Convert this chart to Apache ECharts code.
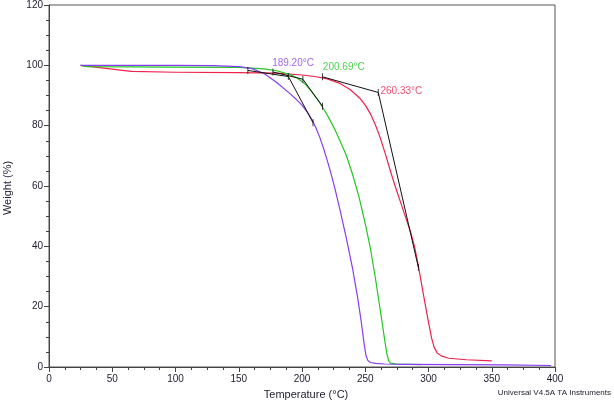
<!DOCTYPE html>
<html>
<head>
<meta charset="utf-8">
<script src="https://cdn.jsdelivr.net/npm/echarts@6/dist/echarts.min.js"></script>
<style>html,body{margin:0;padding:0;background:#fff;}#c{width:614px;height:403px;}</style>
</head>
<body>
<div id="c"></div>
<script>
// ---- data ----
const purpleT = [25, 50, 100, 130, 150, 160, 170, 180, 190, 195, 200, 205, 208, 211, 214, 217, 220, 223, 226, 230, 235, 240, 244, 247, 249, 250.5, 252, 254, 258, 265, 280, 320, 360, 397];
const purpleW = [100, 100, 100, 99.9, 99.6, 99.0, 97.3, 94.3, 90.8, 88.9, 86.8, 84.0, 81.9, 79.3, 76.2, 72.5, 68.4, 64.0, 59.2, 52.2, 42.8, 32.6, 23.0, 14.5, 8.0, 4.0, 2.2, 1.5, 1.2, 1.0, 0.9, 0.8, 0.7, 0.5];

const greenT = [25, 30, 100, 150, 170, 180, 190, 196, 202, 207, 214, 220, 225, 230, 235, 240, 245, 250, 254, 258, 262, 265, 267, 268.5, 270, 275, 285, 295];
const greenW = [100, 99.6, 99.4, 99.3, 98.8, 98.2, 97.0, 95.9, 94.0, 91.6, 87.7, 83.5, 79.6, 75.0, 70.2, 63.8, 56.5, 47.5, 39.5, 29.5, 18.5, 10.0, 4.5, 2.0, 1.3, 1.0, 0.9, 0.8];

const redT = [25, 45, 65, 100, 150, 180, 200, 210, 220, 230, 238, 246, 250, 254, 258, 262, 266, 270, 274, 278, 282, 286, 289, 292, 296, 300, 302.5, 304.5, 307, 310, 316, 330, 350];
const redW = [100, 99.0, 98.0, 97.7, 97.6, 97.4, 96.8, 96.3, 95.5, 94.0, 92.0, 89.0, 86.8, 84.0, 80.3, 75.8, 70.5, 64.8, 59.5, 54.5, 49.5, 44.5, 39.8, 33.5, 24.0, 14.8, 9.5, 6.5, 4.6, 3.7, 2.9, 2.4, 2.0];

// onset tangent constructions: [start limit, onset, end limit]
const purpleTangentT = [157.2, 189.2, 208.7];
const purpleTangentW = [98.3, 96.3, 81.0];
const greenTangentT = [177.0, 200.7, 216.2];
const greenTangentW = [97.8, 95.4, 86.4];
const redTangentT = [216.2, 260.3, 292.0];
const redTangentW = [96.2, 91.0, 33.0];

const onsetLabels = ['189.20°C', '200.69°C', '260.33°C'];
const onsetLabelT = [176.4, 216.5, 262.0];
const onsetLabelW = [100.6, 99.4, 91.5];

const xTicks = [0, 50, 100, 150, 200, 250, 300, 350, 400];
const yTicks = [0, 20, 40, 60, 80, 100, 120];

// ---- build ----
const PURPLE = '#8a3cf0', GREEN = '#22c822', RED = '#f2204c';
const zip = (a, b) => a.map((v, i) => [v, b[i]]);
const chart = echarts.init(document.getElementById('c'), null, {renderer: 'canvas'});
const txt = '#1c1c2e';
const FONT = 'Liberation Sans, Arial, sans-serif';
const tangentSeries = (t, w) => ({
  type: 'line', data: zip(t, w), showSymbol: false, silent: true,
  lineStyle: {color: '#111', width: 1}, z: 5
});
const curveSeries = (t, w, c, z) => ({
  type: 'line', data: zip(t, w), showSymbol: false, smooth: false,
  lineStyle: {color: c, width: 1.2, join: 'round'}, z: z, silent: true
});
const allTicks = [].concat(zip(purpleTangentT, purpleTangentW), zip(greenTangentT, greenTangentW), zip(redTangentT, redTangentW));
const labelColors = [PURPLE, GREEN, RED];

chart.setOption({
  animation: false,
  backgroundColor: '#fff',
  grid: {left: 49, right: 59, top: 5, bottom: 36, show: true, borderColor: '#555', borderWidth: 1},
  xAxis: {
    type: 'value', min: xTicks[0], max: xTicks[xTicks.length - 1], interval: 50,
    axisLine: {lineStyle: {color: '#444', width: 1}},
    axisTick: {show: true, inside: false, length: 5, lineStyle: {color: '#444'}},
    minorTick: {show: true, splitNumber: 4, length: 3, lineStyle: {color: '#444'}},
    splitLine: {show: false},
    axisLabel: {fontSize: 10, color: txt, margin: 7, fontFamily: FONT}
  },
  yAxis: {
    type: 'value', min: yTicks[0], max: yTicks[yTicks.length - 1], interval: 20,
    axisLine: {show: true, lineStyle: {color: '#444', width: 1}},
    axisTick: {show: true, inside: false, length: 5, lineStyle: {color: '#444'}},
    minorTick: {show: true, splitNumber: 4, length: 3, lineStyle: {color: '#444'}},
    splitLine: {show: false},
    axisLabel: {fontSize: 10, color: txt, margin: 6, fontFamily: FONT}
  },
  graphic: [
    {type: 'text', x: 306, y: 395, style: {text: 'Temperature (°C)', fontSize: 11, fill: txt, fontFamily: FONT, textAlign: 'center', textVerticalAlign: 'middle'}},
    {type: 'text', x: 8, y: 188, rotation: Math.PI / 2, style: {text: 'Weight (%)', fontSize: 11, fill: txt, fontFamily: FONT, textAlign: 'center', textVerticalAlign: 'middle'}},
    {type: 'text', x: 611, y: 393, style: {text: 'Universal V4.5A TA Instruments', fontSize: 8, fill: txt, fontFamily: FONT, textAlign: 'right', textVerticalAlign: 'middle'}}
  ],
  series: [
    curveSeries(redT, redW, RED, 3),
    curveSeries(greenT, greenW, GREEN, 3),
    curveSeries(purpleT, purpleW, PURPLE, 4),
    tangentSeries(purpleTangentT, purpleTangentW),
    tangentSeries(greenTangentT, greenTangentW),
    tangentSeries(redTangentT, redTangentW),
    {type: 'scatter', data: allTicks, symbol: 'rect', symbolSize: [1, 7], itemStyle: {color: '#111'}, z: 6, silent: true},
    {type: 'scatter', symbolSize: 0, z: 7, silent: true,
     data: onsetLabels.map((s, i) => ({value: [onsetLabelT[i], onsetLabelW[i]],
       label: {show: true, formatter: s, position: 'right', distance: 0, color: labelColors[i], fontSize: 10,
               fontFamily: 'Liberation Sans Narrow, Arial Narrow, Liberation Sans, sans-serif', align: 'left', verticalAlign: 'middle'}}))}
  ]
});
</script>
</body>
</html>
